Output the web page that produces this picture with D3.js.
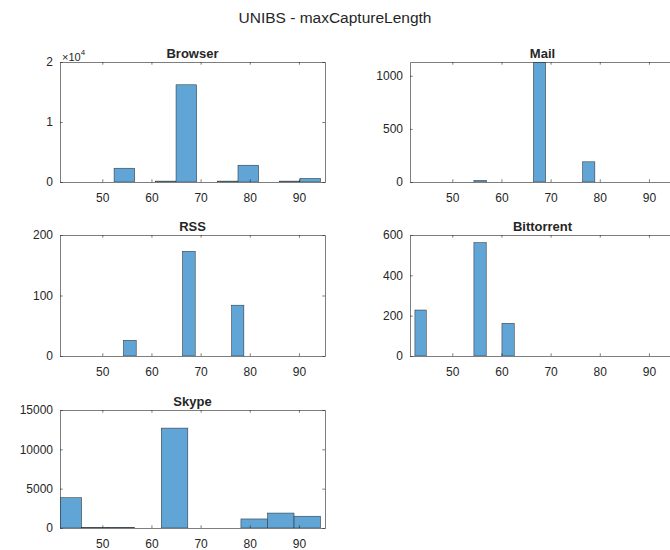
<!DOCTYPE html>
<html>
<head>
<meta charset="utf-8">
<script src="https://cdn.jsdelivr.net/npm/d3@7"></script>
<style>
  body { margin: 0; background: #fff; }
  text { font-family: "Liberation Sans", Arial, Helvetica, sans-serif; fill: #262626; }
</style>
</head>
<body>
<svg id="fig" width="670" height="550"></svg>
<script>
// ---- data -------------------------------------------------------------
const figureTitle = "UNIBS - maxCaptureLength";
const xTickValues = [50, 60, 70, 80, 90];
const xLimits = [41.4, 95.3];

// Browser histogram (bin lower edge, upper edge, count)
const browserLo     = [52.4, 60.8, 65.0, 73.4, 77.6, 86.0, 90.2];
const browserHi     = [56.6, 65.0, 69.2, 77.6, 81.8, 90.2, 94.4];
const browserCounts = [2300, 150, 16200, 150, 2800, 150, 600];
const browserYTicks = [0, 10000, 20000];

// Mail histogram
const mailLo     = [54.4, 66.5, 76.5];
const mailHi     = [57.0, 69.0, 79.0];
const mailCounts = [15, 1130, 190];
const mailYTicks = [0, 500, 1000];

// RSS histogram
const rssLo     = [54.3, 66.3, 76.3];
const rssHi     = [56.9, 68.9, 78.8];
const rssCounts = [26, 173, 84];
const rssYTicks = [0, 100, 200];

// Bittorrent histogram
const bittorrentLo     = [42.4, 54.4, 60.1];
const bittorrentHi     = [44.7, 56.9, 62.6];
const bittorrentCounts = [228, 562, 162];
const bittorrentYTicks = [0, 200, 400, 600];

// Skype histogram
const skypeLo     = [40.4, 45.8, 51.2, 62.0, 78.2, 83.6, 89.0];
const skypeHi     = [45.8, 51.2, 56.6, 67.4, 83.6, 89.0, 94.4];
const skypeCounts = [3850, 80, 80, 12700, 1150, 1900, 1500];
const skypeYTicks = [0, 5000, 10000, 15000];

// ---- panel definitions ------------------------------------------------
const panels = [
  { name: "Browser",    lo: browserLo,    hi: browserHi,    counts: browserCounts,    yTicks: browserYTicks,    yMax: 20000, exp: 4 },
  { name: "Mail",       lo: mailLo,       hi: mailHi,       counts: mailCounts,       yTicks: mailYTicks,       yMax: 1130 },
  { name: "RSS",        lo: rssLo,        hi: rssHi,        counts: rssCounts,        yTicks: rssYTicks,        yMax: 200 },
  { name: "Bittorrent", lo: bittorrentLo, hi: bittorrentHi, counts: bittorrentCounts, yTicks: bittorrentYTicks, yMax: 600 },
  { name: "Skype",      lo: skypeLo,      hi: skypeHi,      counts: skypeCounts,      yTicks: skypeYTicks,      yMax: 15000 }
];

// subplot grid: 3 rows x 2 columns
const colLeft = [60, 410];
const axW = 265;
const rows = [ { top: 62, bottom: 182 }, { top: 235, bottom: 356 }, { top: 410, bottom: 528 } ];

const svg = d3.select("#fig");
const axisColor = "#262626";
const barFill = "rgb(96,165,213)";
const tickLen = 2.7;

svg.append("text")
  .attr("x", 335).attr("y", 23)
  .attr("text-anchor", "middle")
  .style("font-size", "15.5px")
  .text(figureTitle);

panels.forEach((p, i) => {
  const col = i % 2, row = Math.floor(i / 2);
  const x0 = colLeft[col], y0 = rows[row].top, h = rows[row].bottom - rows[row].top;

  const g = svg.append("g").attr("transform", `translate(${x0},${y0})`);
  const x = d3.scaleLinear().domain(xLimits).range([0, axW]);
  const y = d3.scaleLinear().domain([0, p.yMax]).range([h, 0]);

  const clipId = "clip" + i;
  g.append("clipPath").attr("id", clipId)
    .append("rect").attr("x", 0).attr("y", 0).attr("width", axW).attr("height", h);

  const bins = p.counts.map((c, k) => ({ lo: p.lo[k], hi: p.hi[k], c }));
  g.append("g").attr("clip-path", `url(#${clipId})`)
    .selectAll("rect").data(bins).join("rect")
    .attr("x", d => x(d.lo))
    .attr("width", d => x(d.hi) - x(d.lo))
    .attr("y", d => y(d.c))
    .attr("height", d => h - y(d.c))
    .attr("fill", barFill)
    .attr("stroke", axisColor)
    .attr("stroke-width", 0.5);

  // axes (ticks inward, mirrored on the opposite side)
  const fmt = p.exp ? (d => d / Math.pow(10, p.exp)) : d3.format("d");
  const xb = g.append("g").attr("transform", `translate(0,${h})`)
    .call(d3.axisBottom(x).tickValues(xTickValues).tickSizeInner(-tickLen).tickSizeOuter(0).tickPadding(11));
  const xt = g.append("g")
    .call(d3.axisTop(x).tickValues(xTickValues).tickSizeInner(-tickLen).tickSizeOuter(0).tickFormat(""));
  const yl = g.append("g")
    .call(d3.axisLeft(y).tickValues(p.yTicks).tickSizeInner(-tickLen).tickSizeOuter(0).tickPadding(7).tickFormat(fmt));
  const yr = g.append("g").attr("transform", `translate(${axW},0)`)
    .call(d3.axisRight(y).tickValues(p.yTicks).tickSizeInner(-tickLen).tickSizeOuter(0).tickFormat(""));

  [xb, xt, yl, yr].forEach(a => {
    a.select(".domain").attr("stroke", axisColor).attr("stroke-width", 0.6);
    a.selectAll(".tick line").attr("stroke", axisColor).attr("stroke-width", 0.6);
    a.selectAll(".tick text").style("font-size", "12px").attr("fill", "#262626")
      .style("font-family", "'Liberation Sans', Arial, sans-serif");
  });

  g.append("text")
    .attr("x", axW / 2).attr("y", -4)
    .attr("text-anchor", "middle")
    .style("font-size", "13px").style("font-weight", "bold")
    .text(p.name);

  if (p.exp) {
    const t = g.append("text").attr("x", 2).attr("y", -1).style("font-size", "11px");
    t.append("tspan").text("\u00d710");
    t.append("tspan").attr("dy", -6).style("font-size", "8px").text(p.exp);
  }
});
</script>
</body>
</html>
